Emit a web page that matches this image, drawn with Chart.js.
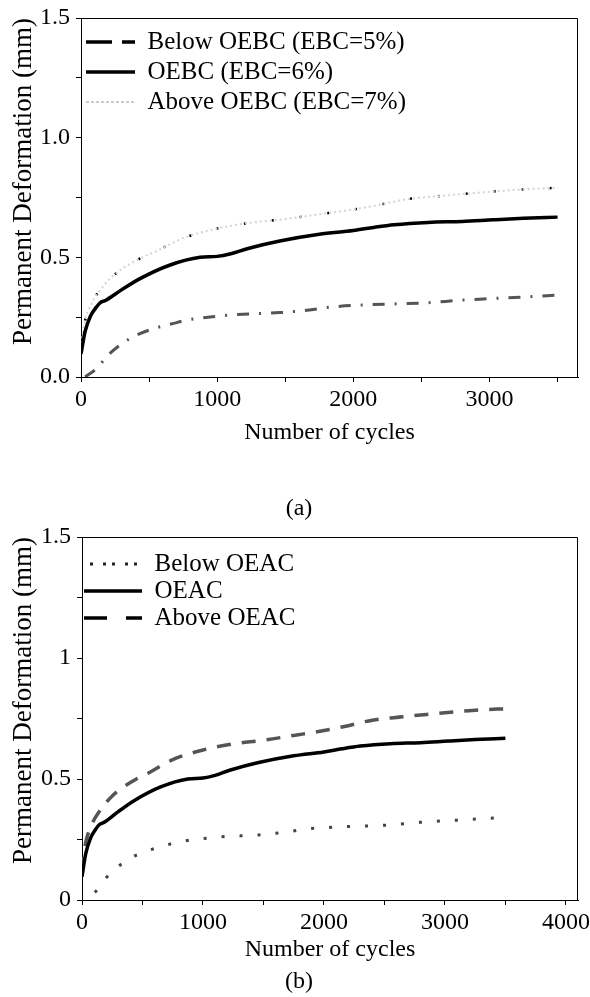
<!DOCTYPE html>
<html><head><meta charset="utf-8">
<script src="https://cdn.jsdelivr.net/npm/chart.js@4.4.1/dist/chart.umd.min.js"></script>
<style>
html,body{margin:0;padding:0;background:#fff;width:590px;height:997px;overflow:hidden;position:relative}
canvas{position:absolute;left:0}
#ca{top:0}
#cb{top:520px}
.cap{position:absolute;left:0;width:598px;text-align:center;font-family:'Liberation Serif',serif;font-size:24px;color:#000;line-height:28px}
</style></head><body>
<canvas id="ca" width="590" height="470"></canvas>
<canvas id="cb" width="590" height="460"></canvas>
<div class="cap" style="top:493px">(a)</div>
<div class="cap" style="top:966px">(b)</div>
<script>
// ---- data ----
const belowCycles = [30, 115, 200, 360, 500, 680, 780, 950, 1150, 1460, 1660, 1850, 2120, 2540, 2790, 3030, 3280, 3500];
const belowDef    = [0.0, 0.036, 0.092, 0.161, 0.196, 0.224, 0.238, 0.251, 0.261, 0.269, 0.279, 0.293, 0.302, 0.310, 0.321, 0.328, 0.335, 0.342];
const oeCycles = [0, 30, 70, 110, 140, 180, 300, 430, 650, 875, 1000, 1100, 1220, 1460, 1750, 2000, 2150, 2300, 2550, 2800, 3030, 3250, 3500];
const oeDef    = [0.096, 0.19, 0.255, 0.29, 0.31, 0.32, 0.365, 0.41, 0.467, 0.50, 0.504, 0.515, 0.536, 0.568, 0.596, 0.612, 0.625, 0.636, 0.646, 0.65, 0.657, 0.663, 0.668];
const aboveCycles = [0, 20, 80, 150, 250, 450, 550, 750, 1000, 1250, 1500, 1750, 2000, 2150, 2400, 2650, 2850, 3100, 3300, 3500];
const aboveDef    = [0.12, 0.21, 0.31, 0.37, 0.43, 0.50, 0.525, 0.58, 0.62, 0.645, 0.66, 0.68, 0.70, 0.715, 0.743, 0.757, 0.767, 0.778, 0.786, 0.79];

const namesA = ['Below OEBC (EBC=5%)', 'OEBC (EBC=6%)', 'Above OEBC (EBC=7%)'];
const namesB = ['Below OEAC', 'OEAC', 'Above OEAC'];

const xTicksA  = [0, 500, 1000, 1500, 2000, 2500, 3000, 3500];
const xLabelsA = ['0', '', '1000', '', '2000', '', '3000', ''];
const xTicksB  = [0, 500, 1000, 1500, 2000, 2500, 3000, 3500, 4000];
const xLabelsB = ['0', '', '1000', '', '2000', '', '3000', '', '4000'];
const yTicks   = [0, 0.25, 0.5, 0.75, 1.0, 1.25, 1.5];
const yLabelsA = ['0.0', '', '0.5', '', '1.0', '', '1.5'];
const yLabelsB = ['0', '', '0.5', '', '1', '', '1.5'];

const xTitle = 'Number of cycles';
const yTitle = 'Permanent Deformation (mm)';

const pts = (xs, ys) => xs.map((x, i) => ({x, y: ys[i]}));

Chart.defaults.font.family = "'Liberation Serif', 'Times New Roman', serif";
Chart.defaults.color = '#000';

const frame = {
  id: 'frame',
  afterDraw(c) {
    const {ctx, chartArea: a} = c;
    ctx.save();
    ctx.strokeStyle = '#000';
    ctx.lineWidth = 1;
    ctx.beginPath();
    ctx.moveTo(a.left, a.top + 0.5);
    ctx.lineTo(a.right - 0.5, a.top + 0.5);
    ctx.lineTo(a.right - 0.5, a.bottom);
    ctx.stroke();
    ctx.restore();
  }
};

function build(id, o) {
  const lineDs = (data, color, width, dash, dashOffset) => ({
    data, borderColor: color, borderWidth: width, borderDash: dash, borderDashOffset: dashOffset || 0,
    pointRadius: 0, fill: false, cubicInterpolationMode: 'monotone', borderCapStyle: 'butt'
  });
  new Chart(document.getElementById(id), {
    type: 'line',
    data: { datasets: o.datasets.map(d => lineDs(d.data, d.color, d.width, d.dash, d.dashOffset)) },
    plugins: [frame],
    options: {
      responsive: false, animation: false, devicePixelRatio: 1,
      layout: { padding: { top: o.padTop, right: 12, bottom: 0, left: 0 } },
      plugins: {
        tooltip: { enabled: false },
        legend: {
          position: 'chartArea', align: 'start',
          title: { display: true, text: '', font: { size: 1 }, padding: { top: o.legTitlePad, bottom: 0 } },
          labels: {
            font: { size: 25 }, color: '#000', boxWidth: o.legBox, boxHeight: 0, padding: o.legPad,
            generateLabels: () => o.legend.map((l, i) => ({
              text: l.text, fillStyle: 'rgba(0,0,0,0)', strokeStyle: l.color, lineWidth: l.width,
              lineDash: l.dash, lineDashOffset: l.offset || 0, lineCap: 'butt', hidden: false, datasetIndex: i
            }))
          }
        }
      },
      scales: {
        x: {
          type: 'linear', min: 0, max: o.xMax,
          afterBuildTicks: s => { s.ticks = o.xTicks.map(v => ({value: v})); },
          afterFit: s => { s.height = o.xAxisH; s.paddingLeft = 0; s.paddingRight = 0; },
          ticks: { font: { size: 24 }, padding: 3, maxRotation: 0, autoSkip: false,
                   callback: (v, i) => o.xLabels[i] },
          grid: { drawOnChartArea: false, drawTicks: true, tickLength: 5, color: '#000' },
          border: { display: true, color: '#000', width: 1 },
          title: { display: true, text: xTitle, font: { size: 24 }, padding: { top: 0, bottom: o.xTitlePad } }
        },
        y: {
          type: 'linear', min: 0, max: 1.5,
          afterBuildTicks: s => { s.ticks = yTicks.map(v => ({value: v})); },
          afterFit: s => { s.width = o.yAxisW; s.paddingTop = 0; s.paddingBottom = 0; },
          ticks: { font: { size: 24 }, padding: 6, autoSkip: false,
                   callback: (v, i) => o.yLabels[i] },
          grid: { drawOnChartArea: false, drawTicks: true, tickLength: 5, color: '#000' },
          border: { display: true, color: '#000', width: 1 },
          title: { display: true, text: yTitle, align: 'end', font: { size: 27 }, padding: { top: 8, bottom: 0 } }
        }
      }
    }
  });
}

build('ca', {
  padTop: 18, xMax: 3650, xTicks: xTicksA, xLabels: xLabelsA, yLabels: yLabelsA,
  xAxisH: 93, yAxisW: 81, xTitlePad: 22.6, legBox: 49, legPad: 5, legTitlePad: 23.3,
  datasets: [
    { data: pts(belowCycles, belowDef), color: '#555555', width: 3, dash: [12, 10, 2, 10] },
    { data: pts(oeCycles, oeDef), color: '#000000', width: 3.5, dash: [] },
    { data: pts(aboveCycles, aboveDef), color: '#d4d4d4', width: 2, dash: [2, 3] },
    { data: pts(aboveCycles, aboveDef), color: '#000000', width: 2.5, dash: [2, 26] }
  ],
  legend: [
    { text: namesA[0], color: '#000', width: 3.5, dash: [20, 16] },
    { text: namesA[1], color: '#000', width: 3.5, dash: [] },
    { text: namesA[2], color: '#cccccc', width: 2, dash: [2, 3] }
  ]
});

build('cb', {
  padTop: 17, xMax: 4100, xTicks: xTicksB, xLabels: xLabelsB, yLabels: yLabelsB,
  xAxisH: 80, yAxisW: 82, xTitlePad: 15.6, legBox: 58, legPad: 2, legTitlePad: 28.3,
  datasets: [
    { data: pts(belowCycles, belowDef), color: '#444444', width: 3, dash: [3, 15], dashOffset: 6 },
    { data: pts(oeCycles, oeDef), color: '#000000', width: 3.5, dash: [] },
    { data: pts(aboveCycles, aboveDef), color: '#555555', width: 3.5, dash: [14, 11] }
  ],
  legend: [
    { text: namesB[0], color: '#222', width: 3, dash: [3, 19], offset: -6 },
    { text: namesB[1], color: '#000', width: 3.5, dash: [] },
    { text: namesB[2], color: '#000', width: 3.5, dash: [23, 28] }
  ]
});
</script>
</body></html>
